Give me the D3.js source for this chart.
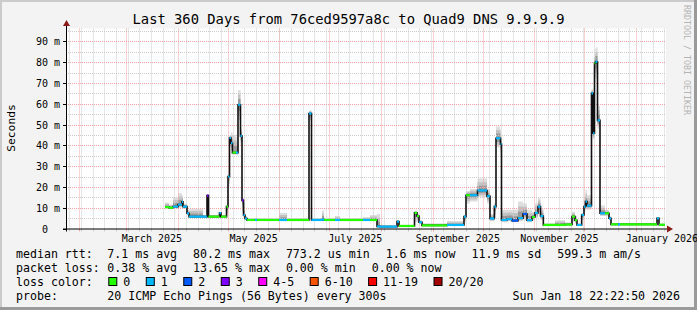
<!doctype html>
<html>
<head>
<script src="https://d3js.org/d3.v7.min.js"></script>
<style>
  body { margin: 0; background: #f3f3f3; }
  text { font-family: "DejaVu Sans Mono", monospace; fill: #000; }
</style>
</head>
<body>
<svg width="697" height="310"></svg>
<script>
var title = "Last 360 Days from 76ced9597a8c to Quad9 DNS 9.9.9.9";
var endTime = new Date(Date.UTC(2026, 0, 18, 22, 22, 50));
var spanDays = 360;
var lastDay = 359.4;   // last sample reaches here

// samples: days after window start, median rtt (ms), lost pings of 20, smoke low / high (ms)
var sampleDay = [59.4, 61.8, 64.2, 67.2, 69.6, 70.2, 72.6, 73.8, 82.2, 84.6, 85.5, 92.1, 93.0, 96.3, 97.2, 98.1, 99.0, 99.9, 102.0, 103.2,
  104.7, 105.6, 106.5, 107.4, 108.6, 113.4, 114.6, 127.8, 132.6, 145.8, 147.3, 153.6, 154.8, 161.4, 164.4, 178.2, 182.4, 186.6, 188.4, 198.6,
  199.8, 209.1, 210.6, 211.8, 213.6, 228.6, 238.8, 240.0, 242.4, 246.9, 252.6, 254.4, 257.0, 258.0, 260.7, 261.3, 264.6, 267.6, 271.2, 274.2,
  276.6, 279.6, 281.4, 283.2, 284.7, 286.4, 293.4, 299.4, 303.6, 305.4, 306.6, 309.4, 310.8, 311.7, 312.6, 315.3, 316.2, 317.1, 317.7, 318.9,
  320.4, 323.4, 325.8, 327.0, 331.2, 332.4, 354.6, 355.8];
var median = [10.3, 10.0, 10.5, 11.5, 12.8, 10.5, 7.3, 5.7, 5.7, 15.8, 5.7, 7.4, 5.7, 10.5, 25, 43.5, 41, 36.5, 36.5, 59.5,
  44.5, 13.5, 6.5, 4.8, 4.1, 4.1, 4.1, 4.1, 4.1, 55.3, 4.1, 4.3, 4.1, 4.1, 4.1, 4.1, 4.1, 1.0, 0.9, 3.3,
  1.2, 7.5, 6, 3, 1.5, 1.7, 5.7, 16, 16, 18.3, 15.5, 4.8, 10.5, 43.4, 40.5, 4.1, 4.5, 3.8, 5, 7,
  4, 5.5, 7.5, 10.5, 6, 1.7, 1.7, 1.9, 5.7, 4, 1.7, 6.5, 10.5, 12.9, 11, 65, 45.8, 79.5, 80.2, 52,
  7.3, 7.3, 4.9, 2.0, 2.0, 2.0, 4.9, 1.8];
var loss = [0, 0, 1, 1, 1, 1, 1, 1, 1, 3, 0, 1, 0, 0, 1, 1, 1, 0, 1, 1,
  1, 3, 1, 1, 0, 1, 0, 1, 0, 1, 1, 1, 0, 1, 0, 1, 0, 1, 1, 1,
  0, 0, 0, 1, 0, 1, 1, 0, 1, 1, 1, 1, 1, 1, 1, 1, 1, 2, 1, 2,
  1, 0, 1, 1, 1, 0, 0, 0, 0, 0, 1, 1, 1, 1, 1, 1, 1, 0, 1, 1,
  1, 0, 1, 0, 1, 0, 1, 0];
var smokeLo = [9.5, 9.3, 9.5, 10, 10.5, 9.5, 6.5, 5.3, 5.3, 6, 5.3, 5.5, 5.3, 6, 20, 40, 36, 35.5, 35.5, 52,
  40, 8, 5, 4, 3.8, 3.8, 3.8, 3.8, 3.8, 52, 3.8, 3.8, 3.8, 3.8, 3.8, 3.8, 3.8, 0.6, 0.7, 1,
  0.9, 3, 3, 2, 1.2, 1.3, 3, 12, 13, 15, 12, 3.5, 5, 39, 35, 3, 3.5, 3, 3.5, 4,
  3, 4, 5, 7, 4, 1.2, 1.2, 1.4, 3, 2.5, 1.2, 4, 8, 10, 9, 60, 43, 70, 72, 48,
  6, 6, 4, 1.6, 1.6, 1.6, 2, 1.5];
var smokeHi = [12.5, 11.5, 15, 17, 16, 12, 9, 9.5, 6.5, 16.5, 6.5, 8, 6.5, 11, 26.5, 45, 46, 45, 44, 66.5,
  48, 15, 12, 6, 5, 5, 5, 7.5, 5, 56.8, 5, 8.5, 5, 6, 5, 5.5, 6.5, 7, 1.5, 4,
  1.8, 8.5, 7, 4, 2.5, 3.6, 6.5, 18, 19, 24, 19, 7, 12, 49, 45, 9, 9, 9, 13, 12,
  9, 8, 12, 14.7, 10, 2.5, 4, 3, 8, 6, 2.5, 7.5, 14, 18.5, 16, 67, 50, 84, 87, 59,
  11, 9, 6, 2.5, 2.5, 2.5, 5.5, 2.5];

var yTicks = [0, 10, 20, 30, 40, 50, 60, 70, 80, 90];
var xLabelMonths = [[2025, 2], [2025, 4], [2025, 6], [2025, 8], [2025, 10], [2026, 0]];
var xLabelText = ["March 2025", "May 2025", "July 2025", "September 2025", "November 2025", "January 2026"];

var lossLabels = ["0", "1", "2", "3", "4-5", "6-10", "11-19", "20/20"];
var lossColors = ["#26ff00", "#00b8ff", "#0059ff", "#7e00ff", "#ff00ff", "#ff5500", "#ff0000", "#a10000"];
var rttStats = ["7.1 ms avg", "80.2 ms max", "773.2 us min", "1.6 ms now", "11.9 ms sd", "599.3 m am/s"];
var lossStats = ["0.38 % avg", "13.65 % max", "0.00 % min", "0.00 % now"];
var probeText = "20 ICMP Echo Pings (56 Bytes) every 300s";
var stampText = "Sun Jan 18 22:22:50 2026";

var svg = d3.select("svg");
var pL = 66, pR = 666, pT = 28.5, pB = 228.5;
var startTime = new Date(endTime.getTime() - spanDays * 864e5);
var x = d3.scaleUtc().domain([startTime, endTime]).range([pL, pR]);
var y = d3.scaleLinear().domain([0, 200 / 2.08]).range([pB, pT]);
function dayDate(d) { return new Date(startTime.getTime() + d * 864e5); }
function bucket(l) { return l <= 3 ? l : l <= 5 ? 4 : l <= 10 ? 5 : l < 20 ? 6 : 7; }

// frame
svg.append("rect").attr("width", 697).attr("height", 310).attr("fill", "#f3f3f3");
svg.append("rect").attr("x", 0).attr("y", 0).attr("width", 697).attr("height", 2).attr("fill", "#cbcbcb");
svg.append("rect").attr("x", 0).attr("y", 0).attr("width", 2).attr("height", 310).attr("fill", "#cbcbcb");
svg.append("rect").attr("x", 0).attr("y", 307).attr("width", 697).attr("height", 3).attr("fill", "#9a9a9a");
svg.append("rect").attr("x", 694).attr("y", 0).attr("width", 3).attr("height", 310).attr("fill", "#9a9a9a");

svg.append("rect").attr("x", pL).attr("y", pT).attr("width", pR - pL).attr("height", pB - pT).attr("fill", "#fff");

var pts = sampleDay.map(function(d, i) { return i; });
var ends = sampleDay.slice(1).concat([lastDay]);
function px(i) { return i < sampleDay.length ? x(dayDate(sampleDay[i])) : x(dayDate(lastDay)); }

// smoke, light outside, darker near the median
var bands = [[1, "#dedede"], [0.7, "#c2c2c2"], [0.4, "#9a9a9a"]];
bands.forEach(function(b) {
  var k = b[0];
  var area = d3.area()
    .curve(d3.curveStepAfter)
    .x(px)
    .y0(function(i) { var j = Math.min(i, sampleDay.length - 1); return y(median[j] + (smokeLo[j] - median[j]) * k); })
    .y1(function(i) { var j = Math.min(i, sampleDay.length - 1); return y(median[j] + (smokeHi[j] - median[j]) * k); });
  svg.append("path").attr("d", area(pts.concat([sampleDay.length]))).attr("fill", b[1]);
});

// grid
var grid = svg.append("g");
var weeks = d3.utcSunday.range(startTime, endTime);
var months = d3.utcMonth.range(startTime, endTime);
function vline(d, c) {
  var xx = Math.round(x(d)) + 0.5;
  grid.append("line").attr("x1", xx).attr("x2", xx).attr("y1", pT).attr("y2", pB)
    .attr("stroke", c).attr("stroke-dasharray", "1,1");
  grid.append("line").attr("x1", xx).attr("x2", xx).attr("y1", pB).attr("y2", pB + 3).attr("stroke", c);
}
function hline(v, c) {
  var yy = Math.round(y(v)) + 0.5;
  grid.append("line").attr("x1", pL).attr("x2", pR).attr("y1", yy).attr("y2", yy)
    .attr("stroke", c).attr("stroke-dasharray", "1,1");
}
weeks.forEach(function(d) { vline(d, "#cdcdcd"); });
[5, 15, 25, 35, 45, 55, 65, 75, 85, 95].forEach(function(v) { hline(v, "#cdcdcd"); });
months.forEach(function(d) { vline(d, "#f2a4a4"); });
yTicks.slice(1).forEach(function(v) { hline(v, "#f2a4a4"); });

// median line
var line = d3.line().curve(d3.curveStepAfter)
  .x(px)
  .y(function(i) { return y(median[Math.min(i, sampleDay.length - 1)]); });
svg.append("path").attr("d", line(pts.concat([sampleDay.length])))
  .attr("fill", "none").attr("stroke", "#111").attr("stroke-width", 1.6);
svg.selectAll(".seg").data(pts).enter().append("line")
  .attr("x1", function(i) { return x(dayDate(sampleDay[i])); })
  .attr("x2", function(i) { return x(dayDate(ends[i])); })
  .attr("y1", function(i) { return y(median[i]); })
  .attr("y2", function(i) { return y(median[i]); })
  .attr("stroke", function(i) { return lossColors[bucket(loss[i])]; })
  .attr("stroke-width", 2.2);

// axes
svg.append("line").attr("x1", pL - 3).attr("x2", pR + 3).attr("y1", pB + 0.5).attr("y2", pB + 0.5).attr("stroke", "#000");
svg.append("line").attr("x1", pL + 0.5).attr("x2", pL + 0.5).attr("y1", pB + 3).attr("y2", 24).attr("stroke", "#000");
svg.append("path").attr("d", "M" + (pR + 1) + "," + (pB - 3) + "L" + (pR + 7) + "," + (pB + 0.5) + "L" + (pR + 1) + "," + (pB + 4) + "Z").attr("fill", "#8b1a1a");
svg.append("path").attr("d", "M" + (pL - 3) + ",26L" + (pL + 0.5) + ",20L" + (pL + 4) + ",26Z").attr("fill", "#8b1a1a");

yTicks.forEach(function(v) {
  var yy = Math.round(y(v)) + 0.5;
  svg.append("line").attr("x1", pL - 3).attr("x2", pL).attr("y1", yy).attr("y2", yy).attr("stroke", "#000");
  svg.append("text").attr("x", 48).attr("y", yy + 3.5).attr("text-anchor", "end").attr("font-size", "10px").text(v);
  if (v > 0) svg.append("text").attr("x", 54).attr("y", yy + 3.5).attr("font-size", "10px").text("m");
});

xLabelMonths.forEach(function(m, i) {
  var a = new Date(Date.UTC(m[0], m[1], 1)), b = new Date(Date.UTC(m[0], m[1] + 1, 1));
  svg.append("text").attr("x", (x(a) + x(b)) / 2).attr("y", 242).attr("text-anchor", "middle")
    .attr("font-size", "10px").text(xLabelText[i]);
});

// titles
svg.append("text").attr("x", 348.5).attr("y", 23.5).attr("text-anchor", "middle").attr("font-size", "13.8px").text(title);
svg.append("text").attr("transform", "translate(15,128) rotate(-90)").attr("text-anchor", "middle")
  .attr("font-size", "11.3px").text("Seconds");
svg.append("text").attr("transform", "translate(684,5) rotate(90)").attr("font-size", "8.3px")
  .style("fill", "#b4b4b4").text("RRDTOOL / TOBI OETIKER");

// legend
var fs = "11.6px", col = 107.3;
function row(label, items, yy) {
  svg.append("text").attr("x", 16).attr("y", yy).attr("font-size", fs).text(label);
  var xx = col;
  items.forEach(function(s) {
    var t = svg.append("text").attr("x", xx).attr("y", yy).attr("font-size", fs).text(s);
    xx += t.node().getComputedTextLength() + 16;
  });
}
row("median rtt:", rttStats, 258);
row("packet loss:", lossStats, 272);

svg.append("text").attr("x", 16).attr("y", 286).attr("font-size", fs).text("loss color:");
var bx = 108.3;
lossLabels.forEach(function(l, i) {
  svg.append("rect").attr("x", bx + 0.5).attr("y", 277.5).attr("width", 8).attr("height", 8)
    .attr("fill", lossColors[i]).attr("stroke", "#000");
  var t = svg.append("text").attr("x", bx + 15).attr("y", 286).attr("font-size", fs).text(l);
  bx += 15 + t.node().getComputedTextLength() + 15.5;
});

svg.append("text").attr("x", 16).attr("y", 300).attr("font-size", fs).text("probe:");
svg.append("text").attr("x", col).attr("y", 300).attr("font-size", fs).text(probeText);
svg.append("text").attr("x", 680).attr("y", 300).attr("text-anchor", "end").attr("font-size", fs).text(stampText);
</script>
</body>
</html>
